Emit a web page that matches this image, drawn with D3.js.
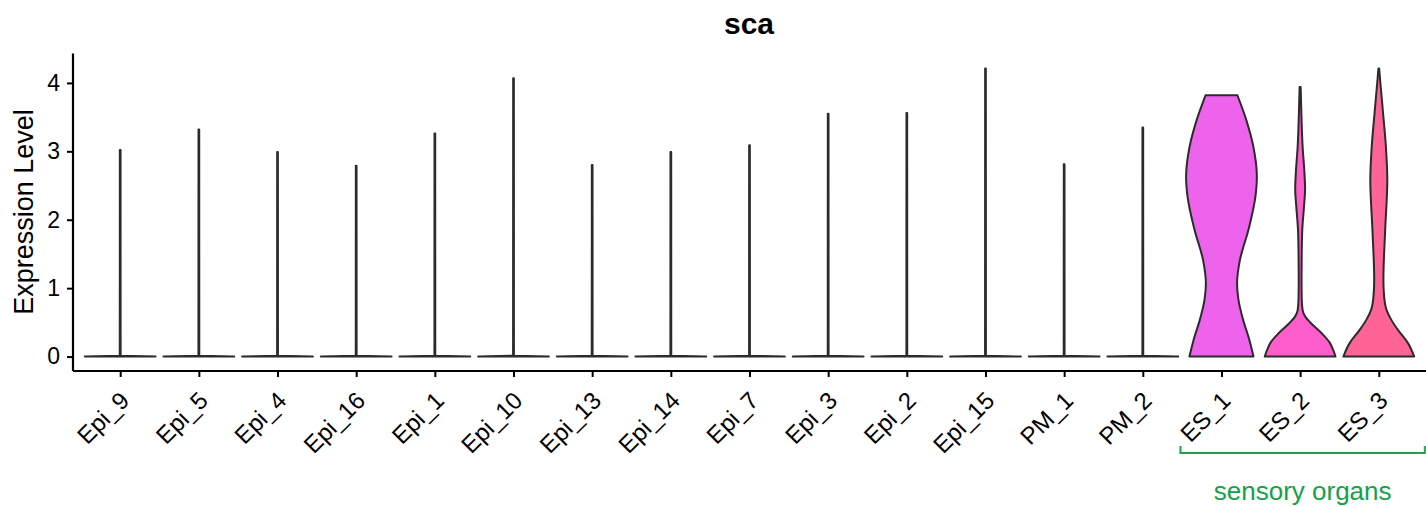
<!DOCTYPE html>
<html>
<head>
<meta charset="utf-8">
<script src="https://cdn.jsdelivr.net/npm/d3@7"></script>
<style>
  body { margin: 0; background: #fff; }
  svg { display: block; font-family: 'Liberation Sans', Arial, sans-serif; }
</style>
</head>
<body>
<div id="chart"></div>
<script>
// clusters, left to right
const categories = ['Epi_9', 'Epi_5', 'Epi_4', 'Epi_16', 'Epi_1', 'Epi_10', 'Epi_13', 'Epi_14',
  'Epi_7', 'Epi_3', 'Epi_2', 'Epi_15', 'PM_1', 'PM_2', 'ES_1', 'ES_2', 'ES_3']

// max expression of the flat (mostly zero) violins
const flatMax = [3.02, 3.32, 2.99, 2.79, 3.26, 4.07, 2.80, 2.99, 3.09, 3.55, 3.56, 4.21, 2.81, 3.35]

// [expression, relative half width]
const es1Profile = [[0, 0.905], [0.24, 0.79], [0.54, 0.61], [0.83, 0.48], [1.07, 0.44], [1.41, 0.52],
  [1.85, 0.76], [2.34, 0.96], [2.63, 1.0], [3.07, 0.9], [3.46, 0.7], [3.82, 0.45]]
const es2Profile = [[0, 1.0], [0.1, 0.93], [0.2, 0.84], [0.34, 0.61], [0.49, 0.3], [0.58, 0.15],
  [0.68, 0.07], [0.85, 0.045], [1.12, 0.04], [1.5, 0.045], [1.85, 0.06], [2.2, 0.11], [2.45, 0.14],
  [2.7, 0.12], [3.07, 0.07], [3.56, 0.035], [3.94, 0.015]]
const es3Profile = [[0, 1.0], [0.2, 0.82], [0.39, 0.54], [0.54, 0.35], [0.68, 0.22], [0.88, 0.15],
  [1.12, 0.13], [1.85, 0.18], [2.58, 0.24], [3.07, 0.2], [3.56, 0.12], [3.94, 0.055], [4.21, 0.01]]

const fillColors = ['#F8766D', '#E8851E', '#D09400', '#B2A100', '#89AC00', '#45B500', '#00BC51',
  '#00C087', '#00C0B2', '#00BCD6', '#00B3F2', '#29A3FF', '#9C8DFF', '#D277FF', '#EE63EB', '#FF5DCB', '#FF6496']
const yTicks = [0, 1, 2, 3, 4]

const W = 1426
const H = 507
const svg = d3.select('#chart').append('svg')
  .attr('width', W)
  .attr('height', H)

const x = d3.scalePoint().domain(categories).range([73, 1426]).padding(0.6)
const y = d3.scaleLinear().domain([-0.211, 4.43]).range([371, 53.5])
const maxHalf = x.step() * 0.45

let profiles = categories.map((c, i) => {
  if (c === 'ES_1') return es1Profile
  if (c === 'ES_2') return es2Profile
  if (c === 'ES_3') return es3Profile
  return [[0, 1.0], [0.012, 0.012], [flatMax[i], 0.01]]
})

const area = d3.area()
  .y(d => y(d[0]))

let violin = svg.selectAll('.violin')
  .data(categories)
  .enter()
  .append('path')
  .attr('class', 'violin')
  .attr('d', (c, i) => {
    let cx = x(c)
    let curve = profiles[i].length > 3 ? d3.curveMonotoneY : d3.curveLinear
    return area.curve(curve)
      .x0(d => cx - d[1] * maxHalf)
      .x1(d => cx + d[1] * maxHalf)(profiles[i])
  })
  .attr('fill', (c, i) => fillColors[i])
  .attr('stroke', '#2b2b2b')
  .attr('stroke-width', 2)
  .attr('stroke-linejoin', 'round')
violin

// axes
let yAxis = svg.append('g')
  .attr('transform', 'translate(73,0)')
  .call(d3.axisLeft(y).tickValues(yTicks).tickSize(6).tickPadding(7).tickFormat(d3.format('d')))
let xAxis = svg.append('g')
  .attr('transform', 'translate(0,371)')
  .call(d3.axisBottom(x).tickSize(6).tickPadding(0))
;[yAxis, xAxis].forEach(a => {
  a.select('.domain').attr('stroke', '#000').attr('stroke-width', 2.2)
  a.selectAll('.tick line').attr('stroke', '#000').attr('stroke-width', 2)
  a.selectAll('text').attr('fill', '#000').attr('font-size', 23)
})
yAxis.select('.domain').attr('d', 'M0,53.5V371')
xAxis.select('.domain').attr('d', 'M73,0H1426')
xAxis.selectAll('.tick text')
  .attr('font-size', 24)
  .attr('text-anchor', 'end')
  .attr('dy', null)
  .attr('y', null)
  .attr('transform', 'translate(10,31) rotate(-45)')

// titles
svg.append('text')
  .text('sca')
  .attr('x', 749)
  .attr('y', 34)
  .attr('text-anchor', 'middle')
  .attr('font-size', 30)
  .attr('font-weight', 'bold')
svg.append('text')
  .text('Expression Level')
  .attr('transform', 'translate(33,212) rotate(-90)')
  .attr('text-anchor', 'middle')
  .attr('font-size', 27)

// sensory organs bracket
let bx0 = x('ES_1') - 41
let bx1 = x('ES_3') + 46
svg.append('path')
  .attr('d', `M${bx0},446V453H${bx1}V446`)
  .attr('fill', 'none')
  .attr('stroke', '#1BA34E')
  .attr('stroke-width', 2)
svg.append('text')
  .text('sensory organs')
  .attr('x', (bx0 + bx1) / 2 + 0)
  .attr('y', 500)
  .attr('text-anchor', 'middle')
  .attr('font-size', 26)
  .attr('fill', '#12A24A')
</script>
</body>
</html>
